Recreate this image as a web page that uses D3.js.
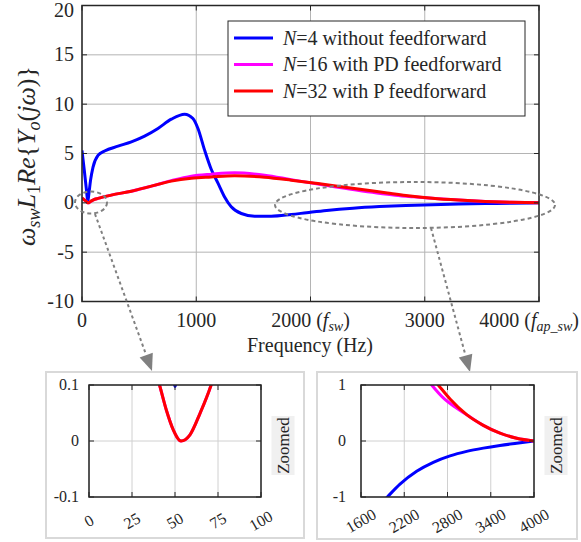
<!DOCTYPE html>
<html>
<head>
<meta charset="utf-8">
<script src="https://cdn.jsdelivr.net/npm/d3@7"></script>
<style>
body { margin: 0; background: #fff; }
svg text { fill: #262626; }
</style>
</head>
<body>
<svg id="chart" width="581" height="542" font-family="'Liberation Serif', 'Times New Roman', serif"></svg>
<script>
// Data (frequency in Hz, normalised Re{Yo})
var blueFreq = [0, 20, 40, 50, 60, 75, 96, 140, 198, 315, 432, 548, 665, 782, 898, 971, 1015, 1073, 1131, 1190, 1248, 1306, 1394, 1511, 1656, 1831, 1965, 2141, 2372, 2603, 2835, 3066, 3297, 3528, 3760, 4000];
var blueVals = [5.3, 3.3, 1.2, 0.097, 0.9, 2.3, 3.6, 4.8, 5.25, 5.74, 6.18, 6.76, 7.54, 8.48, 8.99, 8.55, 7.54, 5.34, 3.4, 2.0, 0.6, -0.4, -1.08, -1.35, -1.36, -1.18, -1.0, -0.77, -0.54, -0.38, -0.265, -0.185, -0.127, -0.08, -0.04, 0];

var magFreq = [0, 20, 38, 41, 45, 49, 53.5, 58.7, 64.5, 71, 74, 100, 140, 256, 432, 607, 782, 957, 1131, 1335, 1598, 1831, 2065, 2300, 2400, 2580, 2742, 2900, 3066, 3297, 3528, 3760, 4000];
var magVals = [0.5, 0.3, 0.13, 0.1, 0.055, 0.02, 0, 0.011, 0.049, 0.1, 0.13, 0.3, 0.45, 0.78, 1.18, 1.69, 2.25, 2.7, 2.9, 3.05, 2.8, 2.35, 1.9, 1.48, 1.3, 1.0, 0.77, 0.61, 0.47, 0.28, 0.14, 0.05, 0];

var redFreq = [0, 20, 38, 41, 45, 49, 53.5, 58.7, 64.5, 71, 74, 100, 140, 256, 432, 607, 782, 957, 1131, 1335, 1598, 1831, 2065, 2300, 2500, 2672, 2835, 3066, 3297, 3528, 3760, 4000];
var redVals = [0.5, 0.3, 0.13, 0.1, 0.055, 0.02, 0, 0.011, 0.049, 0.1, 0.13, 0.3, 0.45, 0.78, 1.18, 1.69, 2.2, 2.5, 2.63, 2.75, 2.6, 2.3, 1.95, 1.58, 1.27, 1.0, 0.75, 0.47, 0.28, 0.14, 0.05, 0];

var legendLabels = ["=4 without feedforward", "=16 with PD feedforward", "=32 with P feedforward"];

var mainXTicks = [0, 1000, 2000, 3000, 4000];
var mainYTicks = [-10, -5, 0, 5, 10, 15, 20];
var lowXTicks = [0, 25, 50, 75, 100];
var lowYTicks = [-0.1, 0, 0.1];
var highXTicks = [1600, 2200, 2800, 3400, 4000];
var highYTicks = [-1, 0, 1];

var series = [
    {freq: blueFreq, vals: blueVals, color: "#0000ff"},
    {freq: magFreq, vals: magVals, color: "#ff00ff"},
    {freq: redFreq, vals: redVals, color: "#ff0000"}
];

var svg = d3.select("#chart");
var grey = "#808080";

// appends tspans, parts = [text, italic, subscript]
function richText(text, parts, fs) {
    var down = false;
    parts.forEach(function(p) {
	var ts = text.append("tspan").text(p[0]).attr("font-style", p[1] ? "italic" : "normal");
	if (p[2]) {
	    ts.attr("font-size", fs * 0.7);
	    if (!down) { ts.attr("dy", fs * 0.2); down = true; }
	} else if (down) {
	    ts.attr("dy", -fs * 0.2);
	    down = false;
	}
    });
}

// one axes box: grid, curves, frame, inward ticks
function drawPanel(x, y, xTicks, yTicks, id, lw, gridColor) {
    var g = svg.append("g");
    var x0 = x.range()[0], x1 = x.range()[1];
    var y0 = y.range()[0], y1 = y.range()[1];

    svg.append("clipPath").attr("id", id)
	.append("rect").attr("x", x0).attr("y", y1).attr("width", x1 - x0).attr("height", y0 - y1);

    g.selectAll(".gx").data(xTicks).enter().append("line")
	.attr("x1", d => x(d)).attr("x2", d => x(d)).attr("y1", y0).attr("y2", y1)
	.attr("stroke", gridColor).attr("stroke-width", 1);
    g.selectAll(".gy").data(yTicks).enter().append("line")
	.attr("y1", d => y(d)).attr("y2", d => y(d)).attr("x1", x0).attr("x2", x1)
	.attr("stroke", gridColor).attr("stroke-width", 1);

    var line = d3.line()
	.x(d => x(d[0]))
	.y(d => y(d[1]))
	.curve(d3.curveMonotoneX);
    series.forEach(function(s) {
	g.append("path")
	    .attr("clip-path", "url(#" + id + ")")
	    .attr("d", line(d3.zip(s.freq, s.vals)))
	    .attr("fill", "none")
	    .attr("stroke", s.color)
	    .attr("stroke-width", lw)
	    .attr("stroke-linejoin", "round");
    });

    // inward ticks on all four sides
    var tl = 5;
    g.selectAll(".tx").data(xTicks).enter().append("path")
	.attr("d", d => "M" + x(d) + "," + y0 + "v" + (-tl) + "M" + x(d) + "," + y1 + "v" + tl)
	.attr("stroke", "#262626");
    g.selectAll(".ty").data(yTicks).enter().append("path")
	.attr("d", d => "M" + x0 + "," + y(d) + "h" + tl + "M" + x1 + "," + y(d) + "h" + (-tl))
	.attr("stroke", "#262626");

    g.append("rect").attr("x", x0).attr("y", y1).attr("width", x1 - x0).attr("height", y0 - y1)
	.attr("fill", "none").attr("stroke", "#262626").attr("stroke-width", 1.5);
    return g;
}

// ---- main plot ----
var x = d3.scaleLinear().domain([0, 4000]).range([82, 539]);
var y = d3.scaleLinear().domain([-10, 20]).range([301.5, 5.5]);
drawPanel(x, y, mainXTicks, mainYTicks, "clipMain", 3, "#b4b4b4");

// top label would be cut at the edge, so keep it just inside
svg.selectAll(".ylab").data(mainYTicks).enter().append("text")
    .attr("x", 74).attr("y", d => Math.max(y(d), 10)).attr("dy", "0.33em")
    .attr("text-anchor", "end").attr("font-size", 20)
    .text(d => d);

mainXTicks.forEach(function(t) {
    var txt = svg.append("text").attr("x", x(t)).attr("y", 327)
	.attr("text-anchor", "middle").attr("font-size", 20);
    if (t == 2000) {
	richText(txt, [[t + " (", false], ["f", true], ["sw", true, true], [")", false]], 20);
    } else if (t == 4000) {
	richText(txt, [[t + " (", false], ["f", true], ["ap_sw", true, true], [")", false]], 20);
    } else {
	txt.text(t);
    }
    // keep the last label inside the figure
    var bb = txt.node().getBBox();
    if (bb.x + bb.width > 579) {
	txt.attr("x", x(t) - (bb.x + bb.width - 579));
    }
});

svg.append("text").attr("x", 310).attr("y", 352)
    .attr("text-anchor", "middle").attr("font-size", 20)
    .text("Frequency (Hz)");

var ylabel = svg.append("text")
    .attr("transform", "translate(35,156) rotate(-90)")
    .attr("text-anchor", "middle").attr("font-size", 26);
richText(ylabel, [["ω", true], ["sw", true, true], ["L", true], ["1", false, true],
		  ["Re", true], ["{", false], ["Y", true], ["o", true, true],
		  ["(", false], ["jω", true], [")}", false]], 26);

// legend
var leg = svg.append("g");
leg.append("rect").attr("x", 228).attr("y", 21).attr("width", 297).attr("height", 95)
    .attr("fill", "#fff").attr("stroke", "#262626").attr("stroke-width", 1);
series.forEach(function(s, i) {
    var ly = 38 + i * 26.5;
    leg.append("line").attr("x1", 234).attr("x2", 273).attr("y1", ly).attr("y2", ly)
	.attr("stroke", s.color).attr("stroke-width", 3);
    var t = leg.append("text").attr("x", 283).attr("y", ly + 6.5).attr("font-size", 20);
    t.append("tspan").attr("font-style", "italic").text("N");
    t.append("tspan").text(legendLabels[i]);
});

// dashed ellipses and arrows
svg.append("ellipse").attr("cx", 91).attr("cy", 202.5).attr("rx", 16).attr("ry", 11)
    .attr("fill", "none").attr("stroke", grey).attr("stroke-width", 2).attr("stroke-dasharray", "4,3");
svg.append("ellipse").attr("cx", 415).attr("cy", 205).attr("rx", 140).attr("ry", 23)
    .attr("fill", "none").attr("stroke", grey).attr("stroke-width", 2).attr("stroke-dasharray", "4,3");

function arrow(xa, ya, xb, yb) {
    var dx = xb - xa, dy = yb - ya, len = Math.sqrt(dx * dx + dy * dy);
    var ux = dx / len, uy = dy / len, hl = 17, hw = 7;
    var bx = xb - ux * hl, by = yb - uy * hl;
    svg.append("line").attr("x1", xa).attr("y1", ya).attr("x2", bx).attr("y2", by)
	.attr("stroke", grey).attr("stroke-width", 2).attr("stroke-dasharray", "3,3");
    svg.append("path")
	.attr("d", "M" + xb + "," + yb + "L" + (bx - uy * hw) + "," + (by + ux * hw) +
	      "L" + (bx + uy * hw) + "," + (by - ux * hw) + "Z")
	.attr("fill", grey);
}
arrow(95, 214, 152, 371);
arrow(431, 228, 470, 372);

// ---- zoomed insets ----
function insetFrame(x0, y0, w, h) {
    svg.append("rect").attr("x", x0).attr("y", y0).attr("width", w).attr("height", h)
	.attr("fill", "#fff").attr("stroke", "#d9d9d9").attr("stroke-width", 2);
}

function insetLabels(xs, ys, xTicks, yTicks, yLabelX, zoomX) {
    svg.append("g").selectAll("text").data(yTicks).enter().append("text")
	.attr("x", yLabelX).attr("y", d => ys(d)).attr("dy", "0.33em")
	.attr("text-anchor", "end").attr("font-size", 16)
	.text(d => d);
    svg.append("g").selectAll("text").data(xTicks).enter().append("text")
	.attr("transform", d => "translate(" + xs(d) + ",521) rotate(-30)")
	.attr("dy", "0.33em")
	.attr("text-anchor", "middle").attr("font-size", 16)
	.text(d => d);
    svg.append("rect").attr("x", zoomX - 11.5).attr("y", 416).attr("width", 23).attr("height", 59)
	.attr("fill", "#f0f0f0");
    svg.append("text")
	.attr("transform", "translate(" + zoomX + ",445.5) rotate(-90)")
	.attr("dy", "0.33em").attr("text-anchor", "middle").attr("font-size", 17)
	.text("Zoomed");
}

insetFrame(46, 372, 258, 166);
var xl = d3.scaleLinear().domain([0, 100]).range([89, 261]);
var yl = d3.scaleLinear().domain([-0.1, 0.1]).range([497, 385]);
drawPanel(xl, yl, lowXTicks, lowYTicks, "clipLow", 3, "#d0d0d0");
insetLabels(xl, yl, lowXTicks, lowYTicks, 79, 283);

insetFrame(317, 372, 260, 167);
var xr = d3.scaleLinear().domain([1600, 4000]).range([361, 534]);
var yr = d3.scaleLinear().domain([-1, 1]).range([497, 385]);
drawPanel(xr, yr, highXTicks, highYTicks, "clipHigh", 3, "#d0d0d0");
insetLabels(xr, yr, highXTicks, highYTicks, 346, 556);
</script>
</body>
</html>
